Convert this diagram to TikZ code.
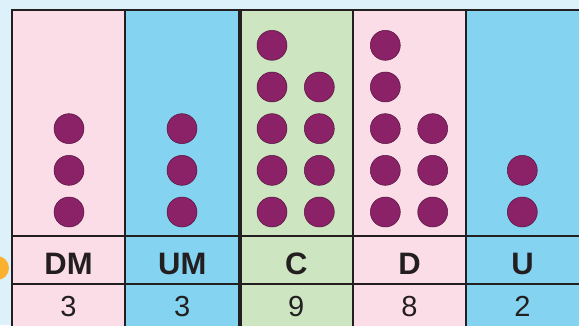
\documentclass[tikz,border=0pt]{standalone}
\usepackage{fontspec}
\setmainfont{Liberation Sans}
\usepackage{tikz}
\usetikzlibrary{positioning}
\definecolor{pvbg}{HTML}{DCF1F9}
\definecolor{pvpink}{HTML}{FBDDE8}
\definecolor{pvblue}{HTML}{84D3F1}
\definecolor{pvgreen}{HTML}{CDE5C1}
\definecolor{pvline}{HTML}{231F20}
\definecolor{pvbead}{HTML}{8B2166}
\definecolor{pvsun}{HTML}{FBB12F}

\begin{document}
\begin{tikzpicture}[x=1pt, y=1pt,
  colbox/.style={inner sep=0pt, outer sep=0pt, minimum height=325pt},
  head/.style={font=\fontsize{31}{31}\selectfont\bfseries, text=pvline, anchor=base},
  num/.style={font=\fontsize{29}{29}\selectfont, text=pvline, anchor=base},
  bead/.style={circle, fill=pvbead, draw=pvbead!60!black, line width=0.5pt,
               minimum size=30pt, inner sep=0pt},
  grid/.style={draw=pvline, line width=2pt},
  thickgrid/.style={draw=pvline, line width=4pt}
]
%% Frame
\useasboundingbox (0,0) rectangle (579,325);
\clip (0,0) rectangle (579,325);
\fill[pvbg] (0,0) rectangle (579,325);
\fill[pvsun] (-3,57) circle (12);

%% Columns
\node[colbox, fill=pvpink,  minimum width=113pt]   (dm) at (68.5,152.5)  {};
\node[colbox, fill=pvblue,  minimum width=114.5pt] (um) at (182.25,152.5) {};
\node[colbox, fill=pvgreen, minimum width=113.5pt] (c)  at (296.25,152.5) {};
\node[colbox, fill=pvpink,  minimum width=113pt]   (d)  at (409.5,152.5) {};
\node[colbox, fill=pvblue,  minimum width=116pt]   (u)  at (524,152.5)   {};

%% Grid
\draw[grid] (dm.south west) -- (dm.north west) -- (u.north east);
\draw[grid] (dm.west |- 0,89) -- (u.east |- 0,89);
\draw[grid] (dm.west |- 0,41) -- (u.east |- 0,41);
\draw[grid] (dm.south east) -- (dm.north east);
\draw[thickgrid] (c.south west) -- (c.north west);
\draw[grid] (c.south east) -- (c.north east);
\draw[grid] (d.south east) -- (d.north east);

%% Beads
\foreach \i in {1,...,3} \node[bead] (dm\i) at (69,71.33+41.67*\i) {};
\foreach \i in {1,...,3} \node[bead] (um\i) at (182,71.33+41.67*\i) {};
\foreach \i in {1,...,5} \node[bead] (ca\i) at (272,71.33+41.67*\i) {};
\foreach \i in {1,...,4} \node[bead] (cb\i) at (319.3,71.33+41.67*\i) {};
\foreach \i in {1,...,5} \node[bead] (da\i) at (385.3,71.33+41.67*\i) {};
\foreach \i in {1,...,3} \node[bead] (db\i) at (432.7,71.33+41.67*\i) {};
\foreach \i in {1,...,2} \node[bead] (u\i) at (522.3,71.33+41.67*\i) {};

%% Place names
\node[head] (hdm) at (68.5,51)   {DM};
\node[head] (hum) at (182.25,51) {UM};
\node[head] (hc)  at (296.25,51) {C};
\node[head] (hd)  at (409.5,51)  {D};
\node[head] (hu)  at (522.5,51)  {U};

%% Digits
\node[num] (ndm) at (68.5,8.3)   {3};
\node[num] (num) at (182.25,8.3) {3};
\node[num] (nc)  at (296.25,8.3) {9};
\node[num] (nd)  at (409.5,8.3)  {8};
\node[num] (nu)  at (522.5,8.3)  {2};

\end{tikzpicture}
\end{document}
